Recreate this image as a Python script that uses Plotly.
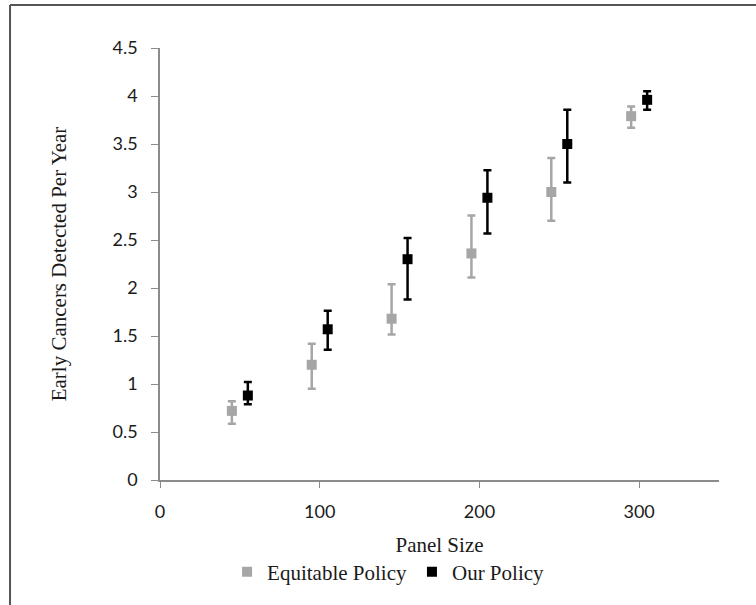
import plotly.graph_objects as go

# Panel sizes for each policy (offset so the two series sit side by side)
equitable_x = [45, 95, 145, 195, 245, 295]
our_x = [55, 105, 155, 205, 255, 305]

# Mean early cancers detected per year
equitable_y = [0.72, 1.20, 1.68, 2.36, 3.00, 3.79]
our_y = [0.88, 1.57, 2.30, 2.94, 3.50, 3.96]

# Error bar bounds
equitable_lo = [0.585, 0.95, 1.515, 2.11, 2.70, 3.67]
equitable_hi = [0.82, 1.42, 2.04, 2.755, 3.355, 3.89]
our_lo = [0.79, 1.357, 1.88, 2.567, 3.10, 3.856]
our_hi = [1.02, 1.763, 2.52, 3.227, 3.856, 4.05]

x_ticks = [0, 100, 200, 300]
y_ticks = [0, 0.5, 1, 1.5, 2, 2.5, 3, 3.5, 4, 4.5]

GRAY = "#a6a6a6"
BLACK = "#000000"


def errs(y, lo, hi):
    plus = [h - v for v, h in zip(y, hi)]
    minus = [v - l for v, l in zip(y, lo)]
    return plus, minus


eq_plus, eq_minus = errs(equitable_y, equitable_lo, equitable_hi)
our_plus, our_minus = errs(our_y, our_lo, our_hi)

fig = go.Figure()
fig.add_trace(go.Scatter(
    x=equitable_x, y=equitable_y, mode="markers", name="Equitable Policy",
    marker=dict(symbol="square", size=10, color=GRAY),
    error_y=dict(type="data", symmetric=False, array=eq_plus, arrayminus=eq_minus,
                 color=GRAY, thickness=2.5, width=4),
))
fig.add_trace(go.Scatter(
    x=our_x, y=our_y, mode="markers", name="Our Policy",
    marker=dict(symbol="square", size=10, color=BLACK),
    error_y=dict(type="data", symmetric=False, array=our_plus, arrayminus=our_minus,
                 color=BLACK, thickness=2.5, width=4),
))

tick_font = dict(family="Lato, 'Open Sans', sans-serif", size=18, color="#1a1a1a")
title_font = dict(family="'Liberation Serif', 'Times New Roman', serif", size=21, color="#1a1a1a")

fig.update_layout(
    width=756, height=605,
    margin=dict(l=160, r=37, t=48, b=120),
    paper_bgcolor="white", plot_bgcolor="white",
    showlegend=True,
    legend=dict(orientation="h", x=0.408, y=-0.213, xanchor="center", yanchor="middle",
                font=dict(family="'Liberation Serif', 'Times New Roman', serif", size=21, color="#1a1a1a"),
                itemwidth=30, tracegroupgap=0),
    xaxis=dict(range=[0, 350], tickvals=x_ticks, ticks="outside", ticklen=6,
               tickcolor="#8c8c8c", showline=True, linecolor="#8c8c8c", linewidth=1.5,
               showgrid=False, zeroline=False, tickfont=tick_font, ticklabelstandoff=9,
               title=dict(text="Panel Size", font=title_font, standoff=16)),
    yaxis=dict(range=[0, 4.5], tickvals=y_ticks, ticktext=[f"{v:g}" for v in y_ticks],
               ticks="outside", ticklen=7, tickcolor="#8c8c8c", showline=True,
               linecolor="#8c8c8c", linewidth=1.5, showgrid=False, zeroline=False,
               tickfont=tick_font, ticklabelstandoff=10,
               title=dict(text="Early Cancers Detected Per Year", font=title_font, standoff=40)),
    shapes=[
        dict(type="line", xref="paper", yref="paper", x0=-0.2683, x1=1.2, y0=1.0997, y1=1.0997,
             line=dict(color="#555", width=2)),
        dict(type="line", xref="paper", yref="paper", x0=-0.2683, x1=-0.2683, y0=1.0997, y1=-0.3,
             line=dict(color="#555", width=2)),
    ],
)

fig.write_html("out.html")
